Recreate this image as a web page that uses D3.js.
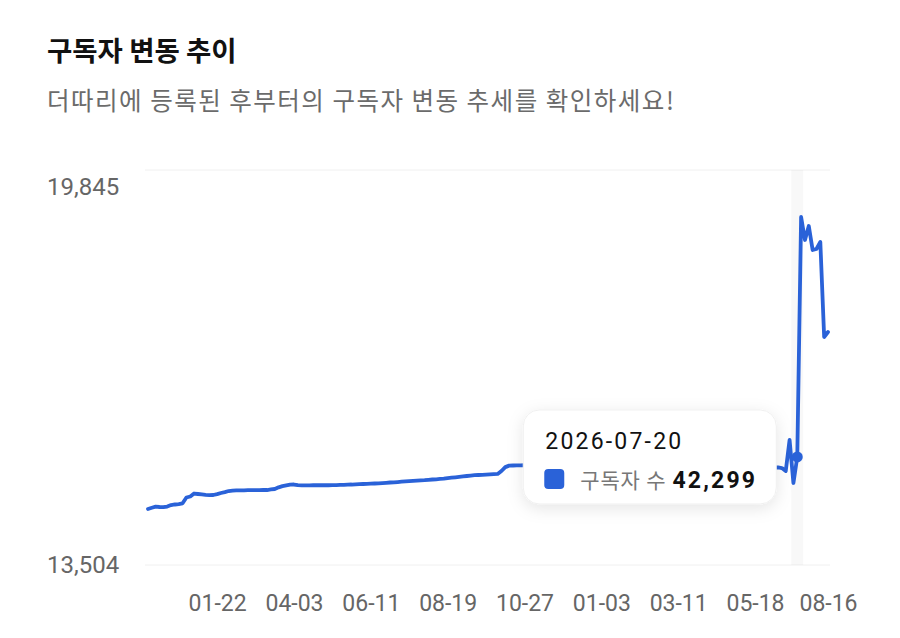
<!DOCTYPE html>
<html><head><meta charset="utf-8">
<script src="https://cdn.jsdelivr.net/npm/d3@7"></script>
<style>html,body{margin:0;padding:0;background:#fff;} svg{display:block;}</style>
</head><body>
<svg id="chart" width="900" height="638"></svg>
<script>
// ---------- DATA ----------
const dates = [
"2024-11-20","2024-11-23","2024-11-27","2024-11-30","2024-12-04","2024-12-07","2024-12-11","2024-12-14","2024-12-18","2024-12-21","2024-12-25","2024-12-28","2025-01-01","2025-01-04","2025-01-08","2025-01-11","2025-01-15","2025-01-18","2025-01-22",
"2025-01-26","2025-01-29","2025-02-02","2025-02-05","2025-02-09","2025-02-12","2025-02-16","2025-02-19","2025-02-23","2025-02-26","2025-03-02","2025-03-05","2025-03-09","2025-03-12","2025-03-16","2025-03-19","2025-03-23","2025-03-26","2025-03-30","2025-04-03",
"2025-04-06","2025-04-10","2025-04-13","2025-04-17","2025-04-20","2025-04-24","2025-04-27","2025-05-01","2025-05-04","2025-05-08","2025-05-11","2025-05-15","2025-05-18","2025-05-22","2025-05-25","2025-05-29","2025-06-01","2025-06-05","2025-06-08","2025-06-11",
"2025-06-14","2025-06-18","2025-06-21","2025-06-25","2025-06-28","2025-07-02","2025-07-05","2025-07-09","2025-07-12","2025-07-16","2025-07-19","2025-07-23","2025-07-26","2025-07-30","2025-08-02","2025-08-06","2025-08-09","2025-08-13","2025-08-16","2025-08-19",
"2025-08-22","2025-08-26","2025-08-29","2025-09-02","2025-09-05","2025-09-09","2025-09-12","2025-09-16","2025-09-19","2025-09-23","2025-09-26","2025-09-30","2025-10-03","2025-10-07","2025-10-10","2025-10-14","2025-10-17","2025-10-21","2025-10-24","2025-10-27",
"2025-10-30","2025-11-03","2025-11-06","2025-11-10","2025-11-13","2025-11-17","2025-11-20","2025-11-24","2025-11-27","2025-12-01","2025-12-04","2025-12-08","2025-12-11","2025-12-15","2025-12-18","2025-12-22","2025-12-25","2025-12-28","2025-12-31","2026-01-03",
"2026-01-06","2026-01-10","2026-01-13","2026-01-17","2026-01-20","2026-01-24","2026-01-27","2026-01-31","2026-02-03","2026-02-07","2026-02-10","2026-02-14","2026-02-17","2026-02-21","2026-02-24","2026-02-27","2026-03-02","2026-03-05","2026-03-08","2026-03-11",
"2026-03-14","2026-03-18","2026-03-21","2026-03-25","2026-03-28","2026-04-01","2026-04-04","2026-04-08","2026-04-11","2026-04-15","2026-04-18","2026-04-22","2026-04-25","2026-04-29","2026-05-02","2026-05-06","2026-05-09","2026-05-12","2026-05-15","2026-05-18",
"2026-05-24","2026-05-30","2026-06-05","2026-06-11","2026-06-17","2026-06-23","2026-06-29","2026-07-05","2026-07-10","2026-07-15","2026-07-20",
"2026-07-24","2026-07-27","2026-07-31","2026-08-03","2026-08-07","2026-08-10","2026-08-13","2026-08-16"
];
const subscribers = [
14443,14464,14482,14477,14474,14485,14509,14519,14527,14539,
14636,14653,14703,14695,14687,14680,14675,14678,14692,14712,
14727,14745,14752,14755,14757,14757,14759,14759,14760,14760,
14762,14762,14771,14779,14807,14826,14839,14853,14854,14843,
14841,14841,14841,14842,14842,14842,14842,14842,14843,14844,
14848,14849,14853,14854,14858,14861,14863,14866,14868,14871,
14873,14878,14883,14888,14891,14896,14901,14906,14911,14915,
14920,14925,14928,14933,14938,14942,14947,14953,14962,14968,
14975,14982,14990,14997,15004,15010,15014,15017,15020,15024,
15027,15031,15081,15146,15171,15173,15175,15176,15177,15178,
15178,15179,15180,15180,15181,15182,15182,15183,15184,15184,
15185,15186,15186,15187,15188,15188,15189,15190,15190,15191,
15191,15192,15192,15193,15193,15194,15194,15195,15195,15196,
15196,15197,15197,15198,15198,15198,15199,15199,15200,15200,
15200,15201,15201,15201,15202,15202,15202,15203,15203,15203,
15204,15204,15204,15205,15205,15205,15206,15206,15206,15190,
15170,15155,15145,15140,15140,15131,15081,15601,14880,15316,
19342,18956,19191,18788,18805,18922,17329,17413
];
const xTickDates = ["2025-01-22","2025-04-03","2025-06-11","2025-08-19","2025-10-27","2026-01-03","2026-03-11","2026-05-18","2026-08-16"];
const yTickValues = [13504, 19845];
const hoverDate = "2026-07-20";
const tooltipSeriesName = "구독자 수";
const tooltipValueText = "42,299";
const titleText = "구독자 변동 추이";
const subtitleText = "더따리에 등록된 후부터의 구독자 변동 추세를 확인하세요!";

// ---------- LAYOUT ----------
const plot = {left:148, right:828, top:170, bottom:565, yMaxPos:187};
const BLUE = "#2a62d8";
const NUM_FONT = "Roboto, 'Noto Sans', sans-serif";
const KR_FONT = "'Noto Sans CJK KR', 'Noto Sans', sans-serif";

const svg = d3.select("#chart");
const data = dates.map((d,i)=>({date:d, value:subscribers[i]}));

const x = d3.scalePoint().domain(dates).range([plot.left, plot.right]);
const y = d3.scaleLinear().domain(d3.extent(yTickValues)).range([plot.bottom, plot.yMaxPos]);

// defs: shadow
const defs = svg.append("defs");
const f = defs.append("filter").attr("id","shadow").attr("x","-30%").attr("y","-40%").attr("width","160%").attr("height","190%");
f.append("feDropShadow").attr("dx",0).attr("dy",4).attr("stdDeviation",8).attr("flood-color","#000").attr("flood-opacity",0.10);

// title
svg.append("text").attr("x",47).attr("y",61).text(titleText)
  .attr("font-family",KR_FONT).attr("font-weight",700).attr("font-size",27.5).attr("fill","#111");
svg.append("text").attr("x",47).attr("y",110).text(subtitleText)
  .attr("font-family",KR_FONT).attr("font-weight",400).attr("font-size",24.5).attr("letter-spacing",1.5).attr("fill","#6b6b6b");

// frame lines
svg.append("g").selectAll("line").data([plot.top, plot.bottom]).join("line")
  .attr("x1",145).attr("x2",830).attr("y1",d=>d).attr("y2",d=>d)
  .attr("stroke","#f0f0f0").attr("stroke-width",1);

// hover shadow band
const hx = x(hoverDate);
const hoverDatum = data.find(d=>d.date===hoverDate);
const hy = y(hoverDatum.value);
svg.append("rect").attr("x",hx-6).attr("y",plot.top).attr("width",12).attr("height",plot.bottom-plot.top)
  .attr("fill","#000").attr("fill-opacity",0.028);

// axes
const xAxis = d3.axisBottom(x).tickValues(xTickDates).tickSize(0).tickFormat(d=>d.slice(5));
const gx = svg.append("g").attr("transform",`translate(0,${plot.bottom})`).call(xAxis);
gx.select(".domain").remove();
gx.attr("font-family",NUM_FONT).attr("font-size",23);
gx.selectAll("text").attr("y",46).attr("dy",null).attr("fill","#666");

const yAxis = d3.axisLeft(y).tickValues(yTickValues).tickSize(0).tickFormat(d3.format(","));
const gy = svg.append("g").attr("transform",`translate(${plot.left},0)`).call(yAxis);
gy.select(".domain").remove();
gy.attr("font-family",NUM_FONT).attr("font-size",24);
gy.selectAll("text").attr("x",47-plot.left).attr("text-anchor","start").attr("dy","0.33em").attr("fill","#666");

// line
const line = d3.line().x(d=>x(d.date)).y(d=>y(d.value));
svg.append("path").datum(data).attr("d",line).attr("fill","none").attr("stroke",BLUE)
  .attr("stroke-width",3.8).attr("stroke-linejoin","round").attr("stroke-linecap","round");

// hover dot
svg.append("circle").attr("cx",hx).attr("cy",hy).attr("r",5.5).attr("fill",BLUE);

// tooltip
const tt = svg.append("g").attr("transform",`translate(${hx-274},${hy-47})`);
tt.append("rect").attr("width",253).attr("height",94).attr("rx",16).attr("fill","#fff")
  .attr("stroke","#f0f0f0").attr("filter","url(#shadow)");
tt.append("text").attr("x",22).attr("y",39).text(hoverDate)
  .attr("font-family",NUM_FONT).attr("font-size",23).attr("letter-spacing",2.2).attr("fill","#111");
tt.append("rect").attr("x",21).attr("y",59).attr("width",20).attr("height",20).attr("rx",4).attr("fill",BLUE);
tt.append("text").attr("x",57).attr("y",78).text(tooltipSeriesName)
  .attr("font-family",KR_FONT).attr("font-size",21).attr("letter-spacing",0.8).attr("fill","#777");
tt.append("text").attr("x",234).attr("y",78).attr("text-anchor","end").text(tooltipValueText)
  .attr("font-family",NUM_FONT).attr("font-weight",700).attr("font-size",23).attr("letter-spacing",2.2).attr("fill","#111");
</script>
</body></html>
